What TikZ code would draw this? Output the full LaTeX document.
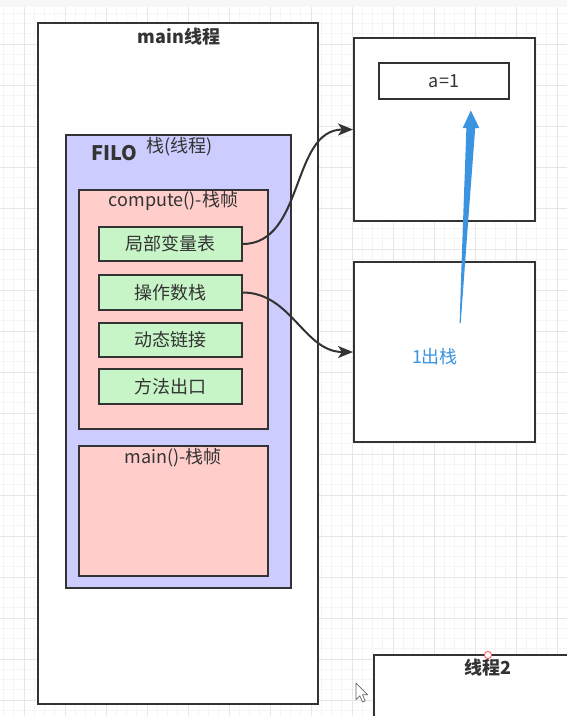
\documentclass[tikz,border=0pt]{standalone}
\usepackage{fontspec}
\setmainfont{Noto Sans CJK SC}
\usetikzlibrary{arrows.meta}
\definecolor{linec}{HTML}{333333}
\definecolor{txtc}{HTML}{333333}
\definecolor{filoc}{HTML}{CCCCFF}
\definecolor{framec}{HTML}{FFCECA}
\definecolor{greenc}{HTML}{C8F5C8}
\definecolor{bluec}{HTML}{3A94E0}
\definecolor{gridmin}{HTML}{F5F5F5}
\definecolor{gridmaj}{HTML}{E6E6E6}
\tikzset{
  box/.style={draw=linec, line width=2pt, rectangle, inner sep=0pt, text=txtc},
  greenbox/.style={box, fill=greenc, minimum width=143pt, minimum height=34.5pt, font=\fontsize{18}{21}\selectfont},
  lbl/.style={inner sep=0pt, text=txtc, font=\fontsize{18}{21}\selectfont},
  conn/.style={draw=linec, line width=2pt, -{Stealth[length=15pt,width=12pt,inset=4pt]}},
  minor/.style={draw=gridmin, line width=0.7pt},
  major/.style={draw=gridmaj, line width=1pt}
}
\begin{document}
\begin{tikzpicture}[x=1pt,y=-1pt]
\useasboundingbox (0,0) rectangle (567,716);
\fill[white] (0,0) rectangle (567,716);
% grid
\foreach \i in {-3,...,54} {\draw[minor] ({24+\i*10.25},0) -- ({24+\i*10.25},716);}
\foreach \i in {0,...,70} {\draw[minor] (0,{3+\i*10.25}) -- (567,{3+\i*10.25});}
\foreach \i in {-1,...,13} {\draw[major] ({24+\i*41},0) -- ({24+\i*41},716);}
\foreach \i in {0,...,17} {\draw[major] (0,{3+\i*41}) -- (567,{3+\i*41});}
\fill[gray!6] (0,0) rectangle (567,7);

% main thread
\node[box, fill=white, minimum width=280pt, minimum height=681pt] (mainbox) at (178,363.5) {};
\node[lbl, font=\fontsize{18}{21}\selectfont\bfseries] (maintitle) at (179,37) {main线程};

% FILO stack
\node[box, fill=filoc, minimum width=225pt, minimum height=453pt] (filo) at (178.5,361.5) {};
\node[lbl, font=\fontsize{20}{22}\selectfont\bfseries] (filotxt) at (114.5,153) {FILO};
\node[lbl] (stacktxt) at (179.5,147) {栈(线程)};

% compute frame
\node[box, fill=framec, minimum width=189pt, minimum height=239pt] (compute) at (173,309.5) {};
\node[lbl] (computetxt) at (173.5,201) {compute()-栈帧};
\node[greenbox] (local) at (170,244) {局部变量表};
\node[greenbox] (opstack) at (170,292.5) {操作数栈};
\node[greenbox] (dynlink) at (170,340) {动态链接};
\node[greenbox] (retaddr) at (170,386.5) {方法出口};

% main frame
\node[box, fill=framec, minimum width=189pt, minimum height=130pt] (mainframe) at (173,511) {};
\node[lbl] (mainframetxt) at (173,458) {main()-栈帧};

% right boxes
\node[box, fill=white, minimum width=180.5pt, minimum height=183pt] (rbox1) at (444.25,129.5) {};
\node[box, fill=white, minimum width=130pt, minimum height=36pt, font=\fontsize{18}{21}\selectfont] (aval) at (444,81) {a=1};
\node[box, fill=white, minimum width=180.5pt, minimum height=180pt] (rbox2) at (444.25,352) {};
\node[lbl, text=bluec] (pop) at (435,357) {1出栈};

% connectors
\draw[conn] (local.east) to[out=0,in=180] (rbox1.west);
\draw[conn] (opstack.east) to[out=0,in=180] (rbox2.west);

% blue hand-drawn arrow
\coordinate (bstart) at (460,323);
\coordinate (btip) at (470.8,110.5);
\fill[bluec] (459.6,323) .. controls (462,250) .. (466.4,128) -- (462.7,128) -- (btip) -- (479.3,128) -- (475.2,128) .. controls (466,250) .. (460.7,323) -- cycle;

% thread 2
\node[box, fill=white, minimum width=230pt, minimum height=90pt] (thread2) at (489,700) {};
\node[lbl, font=\fontsize{18}{21}\selectfont\bfseries] (thread2txt) at (487.5,668) {线程2};
\draw[draw=red!60!pink, fill=white, line width=0.8pt] (488,655) circle (3.6pt);

% mouse cursor
\draw[draw=gray!80!black, fill=white, line width=0.7pt, line join=round]
  (356,683) -- (356,699.5) -- (359.8,695.8) -- (362.6,702) -- (365.2,700.9) -- (362.5,694.8) -- (367.8,694.8) -- cycle;
\end{tikzpicture}
\end{document}
